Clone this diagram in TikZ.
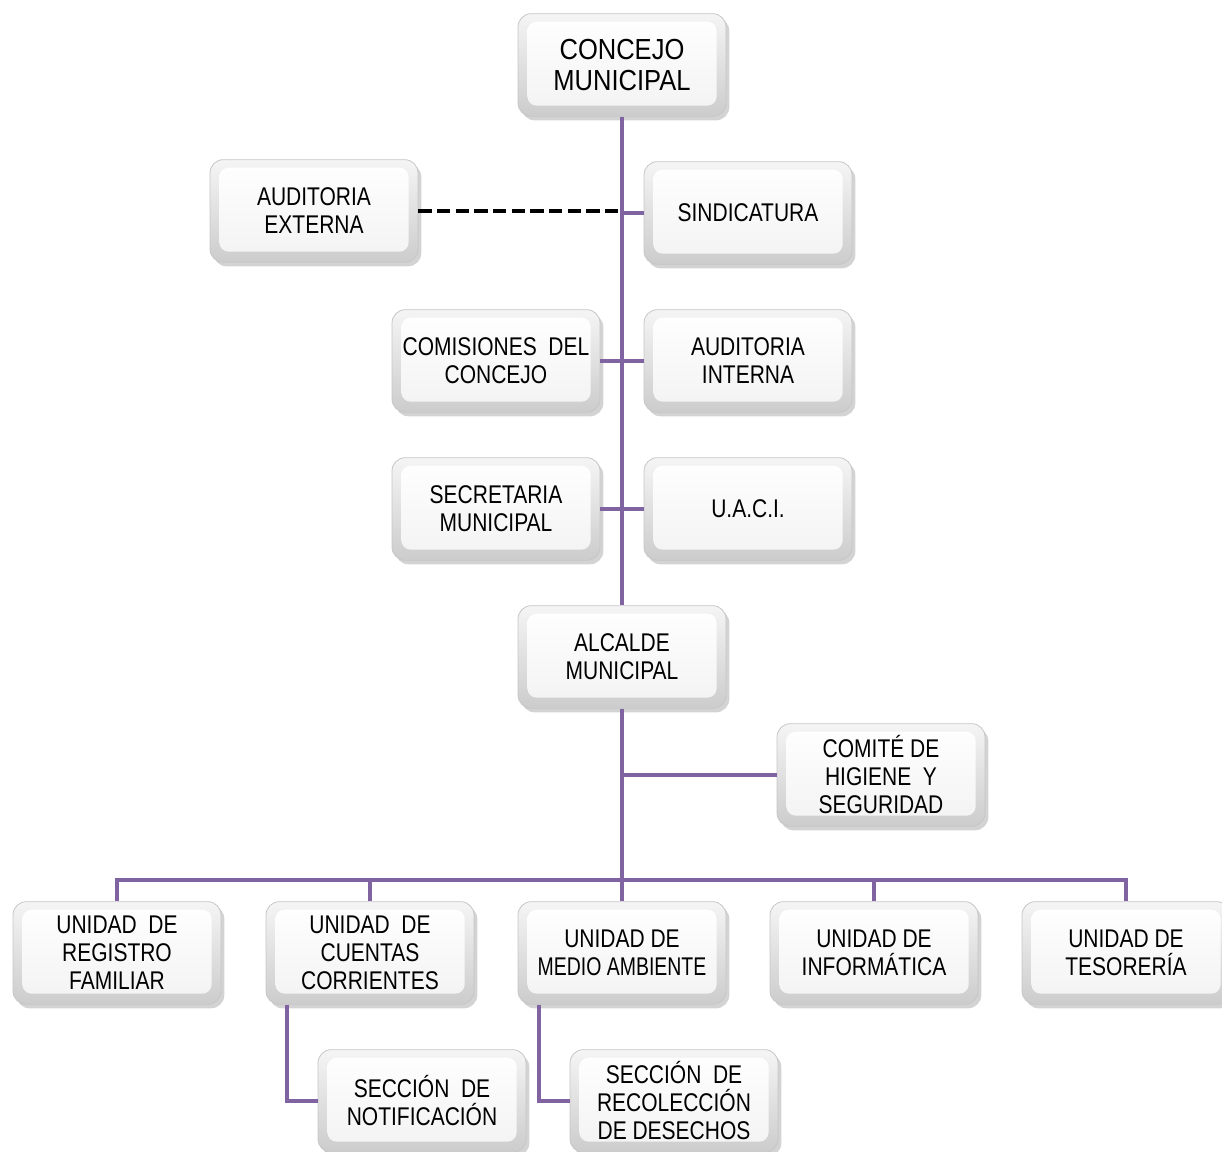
\documentclass[tikz,border=0pt]{standalone}
\usepackage{fontspec}
\setmainfont{Liberation Sans}
\newfontfamily\boxfont[FakeStretch=0.82]{Liberation Sans}
\newfontfamily\narrowfont[FakeStretch=0.76]{Liberation Sans}
\newfontfamily\bigfont[FakeStretch=0.88]{Liberation Sans}
\usetikzlibrary{shadows,calc}
\definecolor{orgpurple}{RGB}{128,100,162}
\tikzset{
  orgbox/.style={draw=gray!45, line width=0.6pt, rounded corners=10pt,
    minimum width=156pt, minimum height=77pt, inner sep=2pt, align=center,
    top color=gray!8, bottom color=gray!40,
    drop shadow={shadow xshift=2.5pt, shadow yshift=-3pt, opacity=0.35, fill=gray},
    font=\boxfont\fontsize{19.2}{21}\selectfont,
    path picture={\shade[top color=white, bottom color=gray!10, rounded corners=7pt]
      ([shift={(7pt,-6pt)}]path picture bounding box.north west) rectangle
      ([shift={(-7pt,8pt)}]path picture bounding box.south east);}},
  link/.style={draw=orgpurple, line width=3pt},
  dashlink/.style={draw=black, line width=3.6pt, dash pattern=on 10pt off 4pt}
}
\begin{document}
\begin{tikzpicture}[x=0.75pt,y=-0.75pt]
\useasboundingbox (0,0) rectangle (1222,1152);
% nodes
\node[orgbox, font=\bigfont\fontsize{21.75}{23.25}\selectfont] (concejo) at (622,65) {CONCEJO\\MUNICIPAL};
\node[orgbox] (audext) at (314,211) {AUDITORIA\\EXTERNA};
\node[orgbox] (sindic) at (748,213) {SINDICATURA};
\node[orgbox] (comis) at (496,361) {COMISIONES\ \ DEL\\CONCEJO};
\node[orgbox] (audint) at (748,361) {AUDITORIA\\INTERNA};
\node[orgbox] (secret) at (496,509) {SECRETARIA\\MUNICIPAL};
\node[orgbox] (uaci) at (748,509) {U.A.C.I.};
\node[orgbox] (alcalde) at (622,657) {ALCALDE\\MUNICIPAL};
\node[orgbox] (comite) at (881,775) {COMITÉ DE\\HIGIENE\ \ Y\\SEGURIDAD};
\node[orgbox] (u1) at (117,953) {UNIDAD\ \ DE\\REGISTRO\\FAMILIAR};
\node[orgbox] (u2) at (370,953) {UNIDAD\ \ DE\\CUENTAS\\CORRIENTES};
\node[orgbox] (u3) at (622,953) {UNIDAD DE\\{\narrowfont MEDIO AMBIENTE}};
\node[orgbox] (u4) at (874,953) {UNIDAD DE\\INFORMÁTICA};
\node[orgbox] (u5) at (1126,953) {UNIDAD DE\\TESORERÍA};
\node[orgbox] (notif) at (422,1101) {SECCIÓN\ \ DE\\NOTIFICACIÓN};
\node[orgbox] (recol) at (674,1101) {SECCIÓN\ \ DE\\RECOLECCIÓN\\DE DESECHOS};
% connectors
\coordinate (bus) at (622,880);
\draw[link] (concejo.south) -- (alcalde.north);
\draw[link] (sindic.west) -- (sindic.west -| concejo.south);
\draw[link] (comis.east) -- (audint.west);
\draw[link] (secret.east) -- (uaci.west);
\draw[dashlink] (audext.east) -- (audext.east -| concejo.south);
\draw[link] (alcalde.south) -- (alcalde.south |- bus);
\draw[link] (comite.west) -- (comite.west -| alcalde.south);
\draw[link] ([xshift=-1.5pt]u1.north |- bus) -- ([xshift=1.5pt]u5.north |- bus);
\foreach \u in {u1,u2,u3,u4,u5} {\draw[link] (\u.north) -- (\u.north |- bus);}
\draw[link] ($(u2.south west)+(21,0)$) |- (notif.west);
\draw[link] ($(u3.south west)+(21,0)$) |- (recol.west);
\end{tikzpicture}
\end{document}
